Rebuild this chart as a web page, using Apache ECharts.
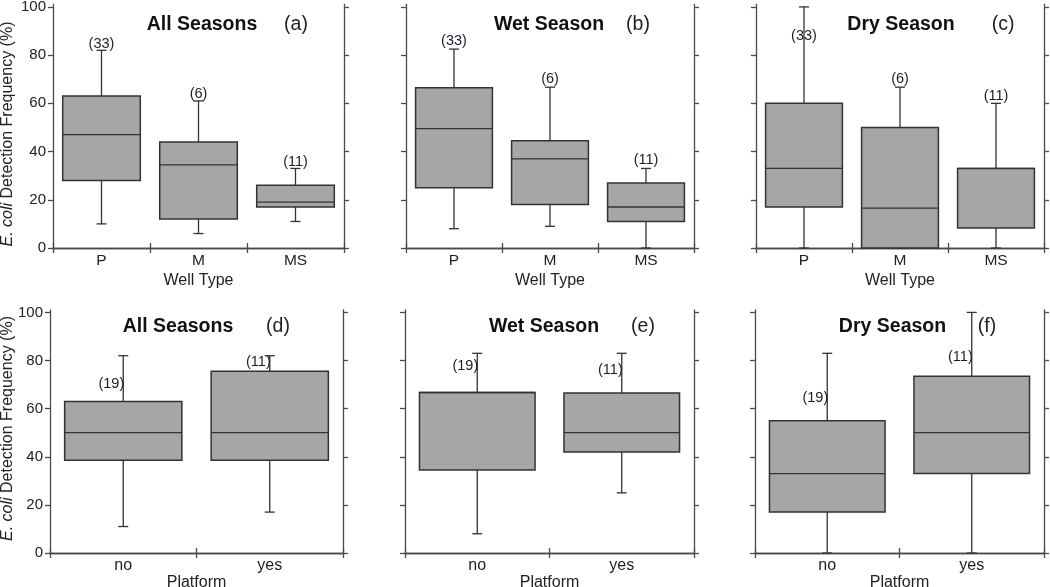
<!DOCTYPE html>
<html><head><meta charset="utf-8">
<script src="https://cdn.jsdelivr.net/npm/echarts@6/dist/echarts.min.js"></script>
<style>html,body{margin:0;padding:0;background:#fff}#c{width:1050px;height:587px}</style>
</head><body><div id="c"></div>
<script>
// ---------- data ----------
const wellTypes = ['P', 'M', 'MS'];
const platformCats = ['no', 'yes'];
const yTickValues = [0, 20, 40, 60, 80, 100];
const seasonTitles = ['All Seasons', 'Wet Season', 'Dry Season'];
const panelLetters = ['(a)', '(b)', '(c)', '(d)', '(e)', '(f)'];
const yAxisTitle = '{i|E. coli} Detection Frequency (%)';
const xTitleWell = 'Well Type';
const xTitlePlatform = 'Platform';

// box stats per category: [lower whisker, Q1, median, Q3, upper whisker]
const statsA = [[10, 28, 47, 63, 82], [6, 12, 34.5, 44, 61], [11, 17, 19, 26, 33]];
const statsB = [[8, 25, 49.5, 66.5, 82.5], [9, 18, 37, 44.5, 66.7], [0, 11, 17, 27, 33]];
const statsC = [[0, 17, 33, 60, 100], [0, 0, 16.5, 50, 66.7], [0, 8.3, 33, 33, 60]];
const statsD = [[11, 38.5, 50, 63, 82], [17, 38.5, 50, 75.5, 82]];
const statsE = [[8, 34.5, 66.7, 66.7, 83], [25, 42, 50, 66.5, 83]];
const statsF = [[0, 17, 33, 55, 83], [0, 33, 50, 73.5, 100]];

// sample counts and the value at which each count label sits
const nWell = [33, 6, 11];
const nPlatform = [19, 11];
const labelYA = [84.8, 64, 35.8];
const labelYB = [85.8, 70.2, 36.7];
const labelYC = [88, 70.2, 63];
const labelYD = [70.2, 79.5];
const labelYE = [77.7, 76];
const labelYF = [64.5, 81.6];

// ---------- layout ----------
const FONT = 'Liberation Sans, Arial, Helvetica, sans-serif';
const AX = '#4a4a4a';
const panels = [
  {grid: {left: 53, top: 4.5, width: 291, height: 243.5}, cats: wellTypes, stats: statsA, n: nWell, ly: labelYA, row: 0, yLabels: true},
  {grid: {left: 406, top: 4.5, width: 288, height: 243.5}, cats: wellTypes, stats: statsB, n: nWell, ly: labelYB, row: 0, yLabels: false},
  {grid: {left: 756, top: 4.5, width: 288, height: 243.5}, cats: wellTypes, stats: statsC, n: nWell, ly: labelYC, row: 0, yLabels: false},
  {grid: {left: 50, top: 310, width: 293, height: 243}, cats: platformCats, stats: statsD, n: nPlatform, ly: labelYD, row: 1, yLabels: true},
  {grid: {left: 405, top: 310, width: 289, height: 243}, cats: platformCats, stats: statsE, n: nPlatform, ly: labelYE, row: 1, yLabels: false},
  {grid: {left: 755, top: 310, width: 289, height: 243}, cats: platformCats, stats: statsF, n: nPlatform, ly: labelYF, row: 1, yLabels: false}
];

function boxRender(params, api) {
  const x = api.value(0);
  const lo = api.coord([x, api.value(1)]);
  const q1 = api.coord([x, api.value(2)]);
  const md = api.coord([x, api.value(3)]);
  const q3 = api.coord([x, api.value(4)]);
  const hi = api.coord([x, api.value(5)]);
  const bw = api.size([1, 0])[0] * 0.8;
  const cx = lo[0];
  const cap = 5;
  const ls = {stroke: '#333333', lineWidth: 1.3, fill: null};
  return {type: 'group', children: [
    {type: 'line', shape: {x1: cx, y1: q3[1], x2: cx, y2: hi[1]}, style: ls},
    {type: 'line', shape: {x1: cx - cap, y1: hi[1], x2: cx + cap, y2: hi[1]}, style: ls},
    {type: 'line', shape: {x1: cx, y1: q1[1], x2: cx, y2: lo[1]}, style: ls},
    {type: 'line', shape: {x1: cx - cap, y1: lo[1], x2: cx + cap, y2: lo[1]}, style: ls},
    {type: 'rect', shape: {x: cx - bw / 2, y: q3[1], width: bw, height: q1[1] - q3[1]},
      style: {fill: '#a6a6a6', stroke: '#333333', lineWidth: 1.5}},
    {type: 'line', shape: {x1: cx - bw / 2, y1: md[1], x2: cx + bw / 2, y2: md[1]}, style: ls}
  ]};
}

function labelRenderFactory(counts, row) {
  return function (params, api) {
    const p = api.coord([api.value(0), api.value(1)]);
    return {type: 'text', x: row === 0 ? p[0] : p[0] + 1, y: p[1],
      style: {text: '(' + counts[params.dataIndex] + ')', fill: '#1c1c2c',
        font: '14.5px ' + FONT, align: row === 0 ? 'center' : 'right', verticalAlign: 'middle'}};
  };
}

const grids = [], xAxes = [], yAxes = [], series = [];
panels.forEach((p, g) => {
  grids.push(Object.assign({outerBoundsMode: 'none', containLabel: false}, p.grid));
  xAxes.push({
    type: 'category', gridIndex: g, data: p.cats, position: 'bottom',
    name: p.row === 0 ? xTitleWell : xTitlePlatform, nameLocation: 'middle',
    nameGap: p.row === 0 ? 25 : 20,
    nameTextStyle: {fontFamily: FONT, fontSize: 16, color: '#222', verticalAlign: 'top'},
    axisLine: {show: true, lineStyle: {color: AX, width: 1.3}},
    axisTick: {show: true, inside: true, length: 5, lineStyle: {color: AX, width: 1.3}},
    axisLabel: {margin: 5, fontFamily: FONT, fontSize: p.row === 0 ? 15.5 : 16, color: '#222'},
    splitLine: {show: false}
  });
  xAxes.push({
    type: 'category', gridIndex: g, data: p.cats, position: 'top',
    axisLine: {show: true, lineStyle: {color: AX, width: 1.3}},
    axisTick: {show: true, inside: true, length: 5, lineStyle: {color: AX, width: 1.3}},
    axisLabel: {show: false}, splitLine: {show: false}
  });
  yAxes.push({
    type: 'value', gridIndex: g, min: 0, max: 101, position: 'left',
    axisLine: {show: true, lineStyle: {color: AX, width: 1.3}},
    axisTick: {show: true, inside: false, length: 5, customValues: yTickValues, lineStyle: {color: AX, width: 1.3}},
    axisLabel: {show: p.yLabels, margin: 7, customValues: yTickValues, fontFamily: FONT, fontSize: 15, color: '#222'},
    splitLine: {show: false}
  });
  yAxes.push({
    type: 'value', gridIndex: g, min: 0, max: 101, position: 'right',
    axisLine: {show: true, lineStyle: {color: AX, width: 1.3}},
    axisTick: {show: true, inside: false, length: 5, customValues: yTickValues, lineStyle: {color: AX, width: 1.3}},
    axisLabel: {show: false}, splitLine: {show: false}
  });
  series.push({
    type: 'custom', xAxisIndex: 2 * g, yAxisIndex: 2 * g, renderItem: boxRender,
    encode: {x: 0, y: [1, 2, 3, 4, 5]}, silent: true, z: 2,
    data: p.stats.map((s, i) => [i].concat(s))
  });
  series.push({
    type: 'custom', xAxisIndex: 2 * g, yAxisIndex: 2 * g, renderItem: labelRenderFactory(p.n, p.row),
    encode: {x: 0, y: 1}, silent: true, z: 3,
    data: p.ly.map((v, i) => [i, v])
  });
});

const titleSpots = [
  [202, 24.5, 296], [549, 24.5, 638], [901, 24.5, 1003],
  [178, 326.5, 278], [544, 326.5, 643], [892.5, 326.5, 987]
];
const graphics = [];
titleSpots.forEach((t, i) => {
  graphics.push({type: 'text', x: t[0], y: t[1], silent: true,
    style: {text: seasonTitles[i % 3], font: 'bold 19.5px ' + FONT, fill: '#111', align: 'center', verticalAlign: 'middle'}});
  graphics.push({type: 'text', x: t[2], y: t[1], silent: true,
    style: {text: panelLetters[i], font: '19.5px ' + FONT, fill: '#222', align: 'center', verticalAlign: 'middle'}});
});
[[7.5, 134], [7.5, 428.5]].forEach(pt => {
  graphics.push({type: 'text', x: pt[0], y: pt[1], rotation: Math.PI / 2, silent: true,
    style: {text: yAxisTitle, font: '16px ' + FONT, fill: '#222', align: 'center', verticalAlign: 'middle',
      rich: {i: {fontStyle: 'italic', fontSize: 16, fontFamily: FONT, fill: '#222'}}}});
});

const chart = echarts.init(document.getElementById('c'), null, {renderer: 'canvas'});
chart.setOption({
  animation: false,
  backgroundColor: '#ffffff',
  grid: grids, xAxis: xAxes, yAxis: yAxes, series: series, graphic: graphics
});
</script></body></html>
